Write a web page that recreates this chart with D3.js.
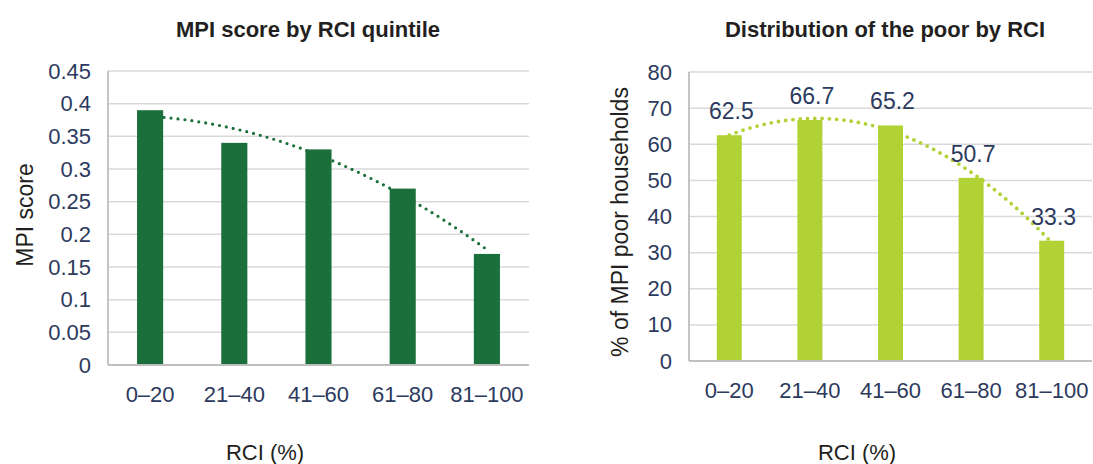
<!DOCTYPE html>
<html>
<head>
<meta charset="utf-8">
<script src="https://cdn.jsdelivr.net/npm/d3@7"></script>
<style>
  html, body { margin: 0; padding: 0; background: #ffffff; }
  svg { display: block; font-family: "Liberation Sans", Arial, Helvetica, sans-serif; }
</style>
</head>
<body>
<svg id="chart" width="1093" height="464"></svg>
<script>
// Quintiles of the RCI (%)
const categories = ["0–20", "21–40", "41–60", "61–80", "81–100"];

// Left panel: MPI score per quintile
const mpiScore = [0.39, 0.34, 0.33, 0.27, 0.17];
const mpiTicks = [0, 0.05, 0.1, 0.15, 0.2, 0.25, 0.3, 0.35, 0.4, 0.45];
const mpiTickLabels = ["0", "0.05", "0.1", "0.15", "0.2", "0.25", "0.3", "0.35", "0.4", "0.45"];

// Right panel: share of MPI poor households per quintile
const poorShare = [62.5, 66.7, 65.2, 50.7, 33.3];
const shareTicks = [0, 10, 20, 30, 40, 50, 60, 70, 80];
const shareTickLabels = ["0", "10", "20", "30", "40", "50", "60", "70", "80"];

const svg = d3.select("#chart");

// Second-order least-squares trend through the bar values (x = 0..n-1)
function quadraticTrend(values) {
  const n = values.length;
  let sx = 0, sx2 = 0, sx3 = 0, sx4 = 0, sy = 0, sxy = 0, sx2y = 0;
  values.forEach((y, x) => {
    sx += x; sx2 += x * x; sx3 += x ** 3; sx4 += x ** 4;
    sy += y; sxy += x * y; sx2y += x * x * y;
  });
  // Solve the 3x3 normal equations with Cramer's rule
  const A = [[n, sx, sx2], [sx, sx2, sx3], [sx2, sx3, sx4]];
  const B = [sy, sxy, sx2y];
  const det = m => m[0][0] * (m[1][1] * m[2][2] - m[1][2] * m[2][1])
                 - m[0][1] * (m[1][0] * m[2][2] - m[1][2] * m[2][0])
                 + m[0][2] * (m[1][0] * m[2][1] - m[1][1] * m[2][0]);
  const D = det(A);
  const coef = [0, 1, 2].map(k => det(A.map((row, i) => row.map((v, j) => j === k ? B[i] : v))) / D);
  return x => coef[0] + coef[1] * x + coef[2] * x * x;
}

function drawPanel(opts) {
  const g = svg.append("g");
  const x = d3.scaleBand().domain(categories).range([opts.left, opts.right]).paddingInner(0.69).paddingOuter(0.345);
  const y = d3.scaleLinear().domain([0, opts.max]).range([opts.bottom, opts.top]);

  // Title
  g.append("text")
    .attr("x", opts.titleX).attr("y", 37)
    .attr("text-anchor", "middle")
    .attr("font-size", 22).attr("font-weight", "bold")
    .attr("fill", "#231f20")
    .text(opts.title);

  // Horizontal gridlines
  g.append("g").selectAll("line")
    .data(opts.ticks.filter(t => t > 0))
    .join("line")
    .attr("x1", opts.left).attr("x2", opts.right)
    .attr("y1", d => y(d)).attr("y2", d => y(d))
    .attr("stroke", "#d9d9d9").attr("stroke-width", 1.5);

  // Y tick labels
  const yAxis = d3.axisLeft(y).tickValues(opts.ticks)
    .tickFormat((d, i) => opts.tickLabels[i]).tickSize(0).tickPadding(17);
  const ya = g.append("g").attr("transform", `translate(${opts.left},0)`).call(yAxis);
  ya.select(".domain").remove();
  ya.selectAll("text").attr("font-size", 22).attr("fill", "#2c3a5e")
    .attr("font-family", "'Liberation Sans', Arial, sans-serif");

  // Trend line (behind the bars)
  const trend = quadraticTrend(opts.values);
  const n = opts.values.length;
  const xi = d3.scaleLinear().domain([0, n - 1])
    .range([x(categories[0]) + x.bandwidth() / 2, x(categories[n - 1]) + x.bandwidth() / 2]);
  const samples = d3.range(0, n - 1 + 1e-9, 0.02);
  g.append("path")
    .datum(samples)
    .attr("d", d3.line().x(t => xi(t)).y(t => y(trend(t))))
    .attr("fill", "none")
    .attr("stroke", opts.color)
    .attr("stroke-width", opts.dotSize)
    .attr("stroke-linecap", "round")
    .attr("stroke-dasharray", `0 ${opts.dotGap}`);

  // Bars
  g.append("g").selectAll("rect")
    .data(opts.values)
    .join("rect")
    .attr("x", (d, i) => x(categories[i]))
    .attr("width", x.bandwidth())
    .attr("y", d => y(d))
    .attr("height", d => y(0) - y(d))
    .attr("fill", opts.color);

  // Value labels
  if (opts.valueLabels) {
    g.append("g").selectAll("text")
      .data(opts.values)
      .join("text")
      .attr("x", (d, i) => x(categories[i]) + x.bandwidth() / 2 + 2)
      .attr("y", d => y(d) - 16)
      .attr("text-anchor", "middle")
      .attr("font-size", 23)
      .attr("fill", "#2c3a5e")
      .text(d => d.toFixed(1));
  }

  // Left and bottom axis lines
  g.append("line")
    .attr("x1", opts.left).attr("x2", opts.left)
    .attr("y1", opts.top).attr("y2", opts.bottom)
    .attr("stroke", "#bfbfbf").attr("stroke-width", 1.8);
  g.append("line")
    .attr("x1", opts.left).attr("x2", opts.right)
    .attr("y1", opts.bottom).attr("y2", opts.bottom)
    .attr("stroke", "#bfbfbf").attr("stroke-width", 1.8);

  // Category labels
  const xAxis = d3.axisBottom(x).tickSize(0).tickPadding(21);
  const xa = g.append("g").attr("transform", `translate(0,${opts.bottom})`).call(xAxis);
  xa.select(".domain").remove();
  xa.selectAll("text").attr("font-size", 22).attr("fill", "#2c3a5e")
    .attr("font-family", "'Liberation Sans', Arial, sans-serif");

  // Axis titles
  g.append("text")
    .attr("x", opts.xTitleX).attr("y", 460)
    .attr("text-anchor", "middle")
    .attr("font-size", 22).attr("fill", "#231f20")
    .text("RCI (%)");
  g.append("text")
    .attr("transform", `translate(${opts.yTitleX},${opts.yTitleY}) rotate(-90)`)
    .attr("text-anchor", "middle")
    .attr("font-size", 23).attr("fill", "#231f20")
    .text(opts.yTitle);
}

drawPanel({
  title: "MPI score by RCI quintile", titleX: 308,
  left: 108, right: 529, top: 71, bottom: 365, max: 0.45,
  ticks: mpiTicks, tickLabels: mpiTickLabels,
  values: mpiScore, color: "#1b6f3a", dotSize: 3.2, dotGap: 7,
  valueLabels: false,
  xTitleX: 265, yTitle: "MPI score", yTitleX: 33, yTitleY: 215
});

drawPanel({
  title: "Distribution of the poor by RCI", titleX: 885,
  left: 689, right: 1092, top: 72, bottom: 361, max: 80,
  ticks: shareTicks, tickLabels: shareTickLabels,
  values: poorShare, color: "#b0d235", dotSize: 3.8, dotGap: 7.3,
  valueLabels: true,
  xTitleX: 857, yTitle: "% of MPI poor households", yTitleX: 628, yTitleY: 222
});
</script>
</body>
</html>
